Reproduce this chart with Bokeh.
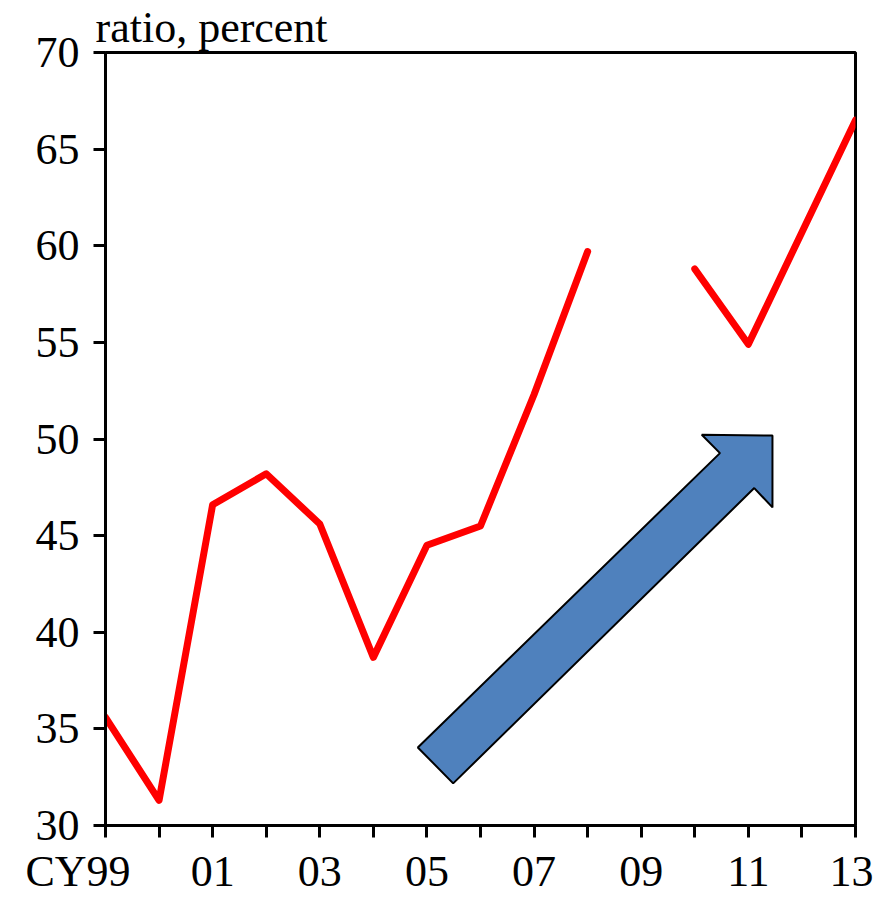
import numpy as np
from bokeh.plotting import figure
from bokeh.models import Range1d, FixedTicker, Title
from bokeh.embed import file_html
from bokeh.resources import INLINE

years = [1999, 2000, 2001, 2002, 2003, 2004, 2005, 2006, 2007, 2008, 2009, 2010, 2011, 2012, 2013]
ratio = [35.6, 31.3, 46.6, 48.2, 45.6, 38.7, 44.5, 45.5, 52.3, 59.7, np.nan, 58.8, 54.9, 60.7, 66.5]
x_tick_labels = {1999: "CY99" + "\u00a0" * 5, 2001: "01", 2003: "03", 2005: "05", 2007: "07",
                 2009: "09", 2011: "11", 2013: "13"}
y_ticks = [30, 35, 40, 45, 50, 55, 60, 65, 70]

# decorative arrow outline (data coordinates)
arrow_x = [2004.83, 2005.49, 2011.11, 2011.45, 2011.45, 2010.13, 2010.47]
arrow_y = [34.04, 32.18, 47.46, 46.46, 50.18, 50.22, 49.27]

FONT = "Liberation Serif"
FS = "44px"

p = figure(width=873, height=898, output_backend="svg", toolbar_location=None,
           x_range=Range1d(1999, 2013), y_range=Range1d(30, 70),
           min_border_left=105, min_border_top=0, min_border_right=18, min_border_bottom=60)
p.title = Title(text="ratio, percent", text_font=FONT, text_font_size=FS,
                text_font_style="normal", text_color="black", align="left",
                offset=-10, standoff=1)
p.background_fill_color = "white"
p.border_fill_color = "white"
p.xgrid.visible = False
p.ygrid.visible = False
p.outline_line_color = "black"
p.outline_line_width = 3

p.patch(arrow_x, arrow_y, fill_color="#4F81BD", line_color="black", line_width=2)
p.line(years, ratio, line_color="#FF0000", line_width=7, line_cap="round", line_join="round")

overrides = {y: x_tick_labels.get(y, "") for y in years}
p.xaxis.ticker = FixedTicker(ticks=years)
p.xaxis.major_label_overrides = overrides
p.yaxis.ticker = FixedTicker(ticks=y_ticks)

for ax in (p.xaxis, p.yaxis):
    ax.axis_line_color = "black"
    ax.axis_line_width = 3
    ax.major_tick_line_color = "black"
    ax.major_tick_line_width = 3
    ax.major_tick_in = 0
    ax.major_tick_out = 12
    ax.minor_tick_line_color = None
    ax.major_label_text_font = FONT
    ax.major_label_text_font_size = FS
    ax.major_label_text_color = "black"
p.xaxis.major_label_standoff = 9
p.yaxis.major_label_standoff = 14

open("out.html", "w").write(file_html(p, INLINE))
